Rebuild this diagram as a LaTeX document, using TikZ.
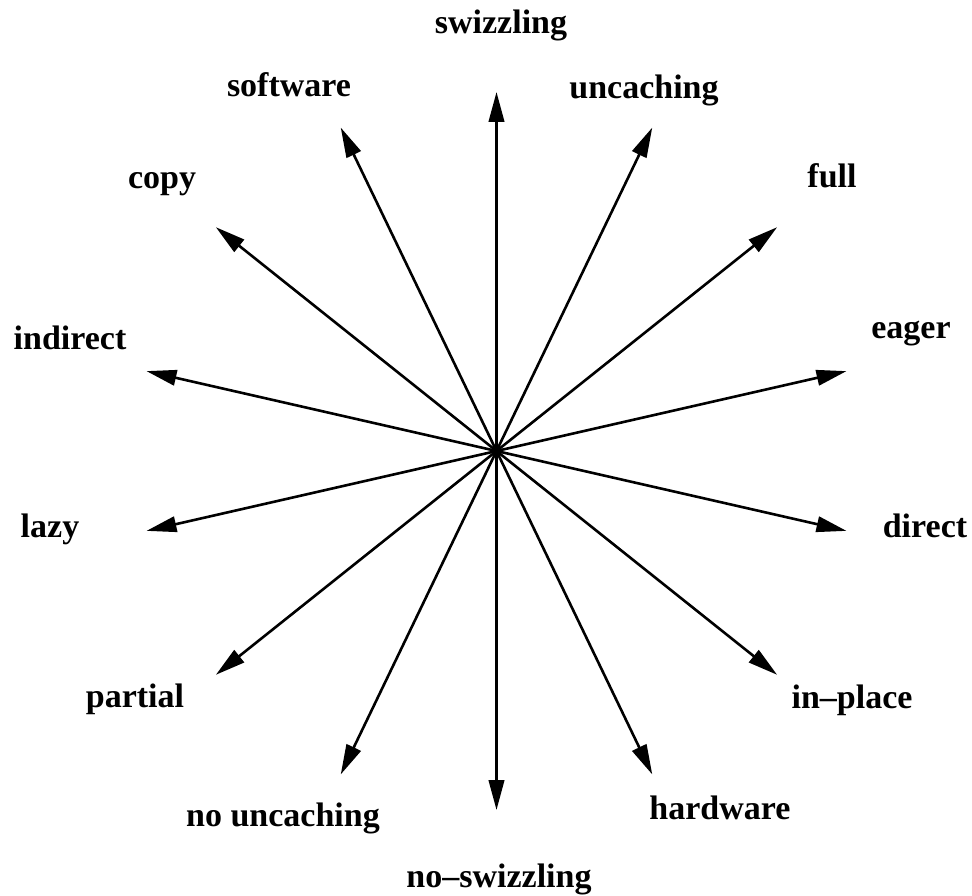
\documentclass[tikz,border=0pt]{standalone}
\usepackage{fontspec}
\setmainfont{Liberation Serif}
\usetikzlibrary{arrows.meta}
\tikzset{
  spoke/.style={line width=2.6pt, -{Triangle[length=30pt,width=15.5pt]}},
  lbl/.style={anchor=base, inner sep=0pt, font=\fontsize{34}{40}\selectfont\bfseries}
}
\begin{document}
\begin{tikzpicture}[x=1pt,y=-1pt]
\useasboundingbox (0,0) rectangle (972,896);
\coordinate (c) at (496.5,451);
% tips (angle measured downward-positive because y is flipped)
\path (c) ++(-90:359)      coordinate (tswz);
\path (c) ++(-64.2857:359) coordinate (tunc);
\path (c) ++(-38.5714:359) coordinate (tfull);
\path (c) ++(-12.8571:359) coordinate (teag);
\path (c) ++(12.8571:359)  coordinate (tdir);
\path (c) ++(38.5714:359)  coordinate (tinp);
\path (c) ++(64.2857:359)  coordinate (thw);
\path (c) ++(90:359)       coordinate (tnsw);
\path (c) ++(115.7143:359) coordinate (tnunc);
\path (c) ++(141.4286:359) coordinate (tpart);
\path (c) ++(167.1429:359) coordinate (tlazy);
\path (c) ++(192.8571:359) coordinate (tind);
\path (c) ++(218.5714:359) coordinate (tcopy);
\path (c) ++(244.2857:359) coordinate (tsw);
\foreach \t in {tswz,tunc,tfull,teag,tdir,tinp,thw,tnsw,tnunc,tpart,tlazy,tind,tcopy,tsw}
  \draw[spoke] (c) -- (\t);
% labels
\node[lbl] (lswz)  at (501,34)  {swizzling};
\node[lbl] (lsw)   at (289,97)  {software};
\node[lbl] (lunc)  at (644,99)  {uncaching};
\node[lbl] (lcopy) at (162,189) {copy};
\node[lbl] (lfull) at (832,188) {full};
\node[lbl] (lind)  at (70,349)  {indirect};
\node[lbl] (leag)  at (911,338) {eager};
\node[lbl] (llazy) at (50,537)  {lazy};
\node[lbl] (ldir)  at (925,537) {direct};
\node[lbl] (lpart) at (135,707) {partial};
\node[lbl] (linp)  at (852,708) {in\textendash place};
\node[lbl] (lnunc) at (283,826) {no uncaching};
\node[lbl] (lhw)   at (720,819) {hardware};
\node[lbl] (lnsw)  at (499,887) {no\textendash swizzling};
\end{tikzpicture}
\end{document}
